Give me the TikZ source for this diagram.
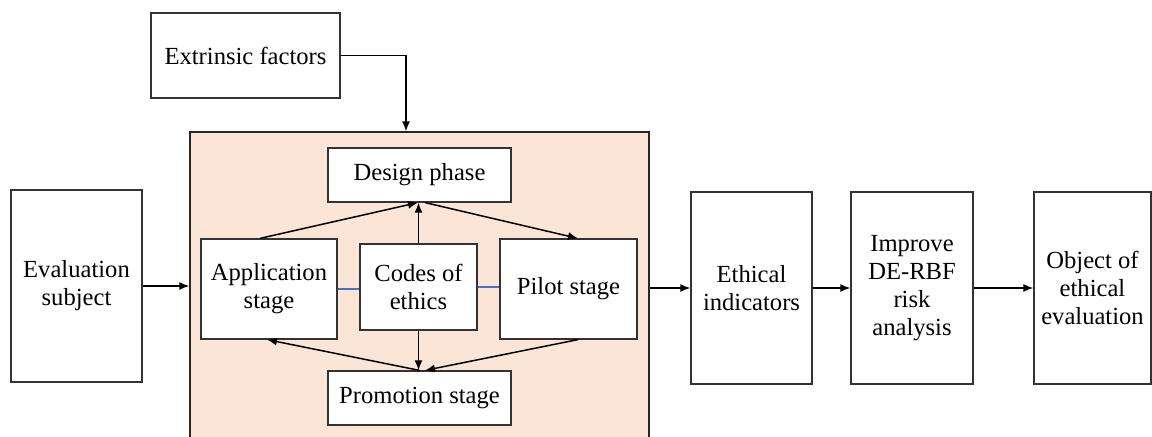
\documentclass[tikz,border=0pt]{standalone}
\usepackage{fontspec}
\setmainfont{Liberation Serif}
\usetikzlibrary{arrows.meta,calc}
\definecolor{peach}{HTML}{FBE5D6}
\definecolor{linkblue}{HTML}{4472C4}
\begin{document}
\begin{tikzpicture}[x=0.5pt,y=-0.5pt,
  box/.style={draw=black!80,line width=0.6pt,fill=white,inner sep=0pt,align=center,
    font=\fontsize{12.3}{14}\selectfont},
  flow/.style={draw=black,line width=0.75pt,-{Latex[length=5pt,width=4pt]}},
  link/.style={draw=linkblue,line width=0.75pt}]
\useasboundingbox (0,0) rectangle (1152,437);

% outer frame holding the life-cycle stages
\node[draw=black!85,line width=0.6pt,fill=peach,minimum width=229.5pt,minimum height=157pt,inner sep=0pt]
  (stages) at (419.5,289) {};

% inputs and outputs
\node[box,minimum width=94.5pt,minimum height=42.5pt] (extr) at (245.5,55.5) {Extrinsic factors};
\node[box,minimum width=65.5pt,minimum height=96pt] (subj) at (76.5,286) {Evaluation\\subject};
\node[box,minimum width=60.5pt,minimum height=96pt] (ind) at (751.5,288) {Ethical\\indicators};
\node[box,minimum width=61pt,minimum height=96pt] (rbf) at (912,288) {Improve\\DE-RBF\\risk\\analysis};
\node[box,minimum width=58.5pt,minimum height=96pt] (obj) at (1092.5,288) {Object of\\ethical\\evaluation};

% stages inside the frame
\node[box,minimum width=91.5pt,minimum height=27pt] (design) at (419.5,175) {Design phase};
\node[box,minimum width=68pt,minimum height=50pt] (app) at (269,289) {Application\\stage};
\node[box,minimum width=58.5pt,minimum height=43pt] (codes) at (418.5,287) {Codes of\\ethics};
\node[box,minimum width=68.5pt,minimum height=50pt] (pilot) at (568.5,289) {Pilot stage};
\node[box,minimum width=91.5pt,minimum height=27pt] (promo) at (419.5,398) {Promotion stage};

% links from the codes of ethics to the side stages
\draw[link] (app.east) -- (app.east -| codes.west);
\draw[link] (codes.east) -- (codes.east -| pilot.west);

% cycle between the stages
\draw[flow] ([xshift=-4.5pt]app.north) -- ([xshift=-0.75pt]design.south);
\draw[flow] ([xshift=2.75pt]design.south) -- ([xshift=4.75pt]pilot.north);
\draw[flow] (codes.north) -- (codes.north |- design.south);
\draw[flow] (codes.south) -- (codes.south |- promo.north);
\draw[flow] ([xshift=4.75pt]pilot.south) -- ([xshift=2.75pt]promo.north);
\draw[flow] (promo.north) -- ([xshift=-1pt]app.south);

% main flow
\draw[flow] (extr.east) -| ([xshift=-6.75pt]stages.north);
\draw[flow] (subj.east) -- (subj.east -| stages.west);
\draw[flow] (stages.east |- ind.west) -- (ind.west);
\draw[flow] (ind.east) -- (rbf.west);
\draw[flow] (rbf.east) -- (obj.west);
\end{tikzpicture}
\end{document}
